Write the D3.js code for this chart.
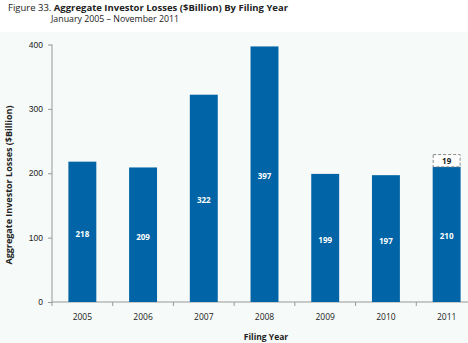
<!DOCTYPE html>
<html><head><meta charset="utf-8">
<script src="https://cdn.jsdelivr.net/npm/d3@7"></script>
<style>
body{margin:0;background:#fff;}
svg{display:block;font-family:"Open Sans","Noto Sans",sans-serif;}
</style></head><body>
<svg id="c" width="468" height="343"></svg>
<script>
const years = ["2005","2006","2007","2008","2009","2010","2011"];
const losses = [218,209,322,397,199,197,210];
const extra = [0,0,0,0,0,0,19];
const yTicks = [0,100,200,300,400];

const svg = d3.select("#c");
const W = 468, H = 343;
svg.append("rect").attr("x",0).attr("y",32).attr("width",W).attr("height",H-32).attr("fill","#f6faf8");

const x = d3.scaleBand().domain(years).range([52,477]).paddingInner(0.54).paddingOuter(0.27);
const y = d3.scaleLinear().domain([0,400]).range([302,44.5]);

// title
const t = svg.append("text").attr("x",8).attr("y",11).attr("font-size",9.5).attr("fill","#222");
t.append("tspan").text("Figure 33. ");
t.append("tspan").attr("font-weight","bold").text("Aggregate Investor Losses ($Billion) By Filing Year");
svg.append("text").attr("x",51).attr("y",22).attr("font-size",8.8).attr("fill","#222").text("January 2005 \u2013 November 2011");

// axes
const gy = svg.append("g").attr("transform","translate(52,0)")
  .call(d3.axisLeft(y).tickValues(yTicks).tickSize(4).tickPadding(5));
gy.select(".domain").attr("stroke","#999").attr("d","M0,44.5V302");
gy.selectAll(".tick line").attr("stroke","#999");
gy.selectAll(".tick text").attr("font-size",8.5).attr("fill","#222").attr("font-family","inherit");

svg.append("line").attr("x1",52).attr("x2",W).attr("y1",302).attr("y2",302).attr("stroke","#999");
svg.selectAll(".xt").data(years).join("line").attr("class","xt")
  .attr("x1",(d,i)=> i===0 ? 52 : x(d) - (x.step()-x.bandwidth())/2)
  .attr("x2",(d,i)=> i===0 ? 52 : x(d) - (x.step()-x.bandwidth())/2)
  .attr("y1",302).attr("y2",306).attr("stroke","#999");
svg.selectAll(".xl").data(years).join("text").attr("class","xl")
  .attr("x",d=>x(d)+x.bandwidth()/2).attr("y",320).attr("text-anchor","middle")
  .attr("font-size",8.5).attr("fill","#222").text(d=>d);

svg.append("text").attr("x",266).attr("y",340).attr("text-anchor","middle")
  .attr("font-size",8.5).attr("font-weight","bold").attr("fill","#222").text("Filing Year");
svg.append("text").attr("transform","translate(12,185) rotate(-90)").attr("text-anchor","middle")
  .attr("font-size",9).attr("font-weight","bold").attr("fill","#222").text("Aggregate Investor Losses ($Billion)");

// bars
svg.selectAll(".bar").data(years).join("rect").attr("class","bar")
  .attr("x",d=>x(d)).attr("width",x.bandwidth())
  .attr("y",(d,i)=>y(losses[i])).attr("height",(d,i)=>y(0)-y(losses[i]))
  .attr("fill","#0064a6");
svg.selectAll(".bl").data(years).join("text").attr("class","bl")
  .attr("x",d=>x(d)+x.bandwidth()/2).attr("y",(d,i)=>y(losses[i]/2)+5)
  .attr("text-anchor","middle").attr("font-size",8).attr("font-weight","bold").attr("fill","#fff")
  .text((d,i)=>losses[i]);

// extra stacked (dashed)
const ex = years.map((d,i)=>({d,i})).filter(o=>extra[o.i]>0);
svg.selectAll(".ex").data(ex).join("rect").attr("class","ex")
  .attr("x",o=>x(o.d)+0.5).attr("width",x.bandwidth()-1)
  .attr("y",o=>y(losses[o.i]+extra[o.i])).attr("height",o=>y(losses[o.i])-y(losses[o.i]+extra[o.i]))
  .attr("fill","#fff").attr("stroke","#888").attr("stroke-dasharray","3,2");
svg.selectAll(".exl").data(ex).join("text").attr("class","exl")
  .attr("x",o=>x(o.d)+x.bandwidth()/2).attr("y",o=>y(losses[o.i]+extra[o.i]/2)+3)
  .attr("text-anchor","middle").attr("font-size",8).attr("font-weight","bold").attr("fill","#222")
  .text(o=>extra[o.i]);
</script></body></html>
